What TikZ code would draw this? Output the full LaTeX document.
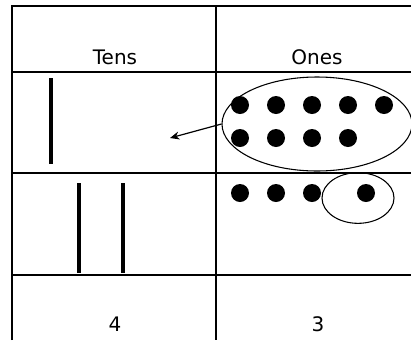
\documentclass[tikz,border=0pt]{standalone}
\usepackage{fontspec}
\setmainfont{DejaVu Sans}
\usetikzlibrary{positioning,shapes.geometric,arrows.meta}
\tikzset{
  grid/.style={line width=1.1pt},
  rod/.style={line width=2.4pt},
  unitdot/.style={circle, fill=black, inner sep=0pt, minimum size=13.5pt},
  groupring/.style={draw, ellipse, line width=0.8pt, inner sep=0pt},
  headtext/.style={font=\fontsize{15}{17}\selectfont, inner sep=0pt},
  arrow/.style={-{Stealth[length=7pt,width=6pt]}, line width=0.9pt}
}
\begin{document}
\begin{tikzpicture}[x=0.75pt, y=-0.75pt]
  \useasboundingbox (0,0) rectangle (411,340);
  % table
  \draw[grid] (12,340) -- (12,6) -- (411,6);
  \draw[grid] (216,6) -- (216,340);
  \foreach \y in {72,173,275}
    \draw[grid] (12,\y) -- (411,\y);
  % headings and totals
  \node[headtext] (tens) at (115,57) {Tens};
  \node[headtext] (ones) at (317,57) {Ones};
  \node[headtext] (four) at (115,324) {4};
  \node[headtext] (three) at (318,324) {3};
  % tens rods
  \draw[rod] (51,78) -- (51,164);
  \draw[rod] (79,183) -- (79,273);
  \draw[rod] (123,183) -- (123,273);
  % ones dots
  \foreach \i in {1,...,5}
    \node[unitdot] (a\i) at ({240+36*(\i-1)},105) {};
  \foreach \i in {1,...,4}
    \node[unitdot] (b\i) at ({240+36*(\i-1)},138) {};
  \foreach \i/\x in {1/240,2/276,3/312,4/366}
    \node[unitdot] (c\i) at (\x,193) {};
  % groups
  \node[groupring, minimum width=142.5pt, minimum height=70.5pt] (ten) at (317,124) {};
  \node[groupring, minimum width=54pt, minimum height=38pt] (left) at (358,198) {};
  \coordinate (tip) at (170,138);
  \draw[arrow] (ten.west) -- (tip);
\end{tikzpicture}
\end{document}
